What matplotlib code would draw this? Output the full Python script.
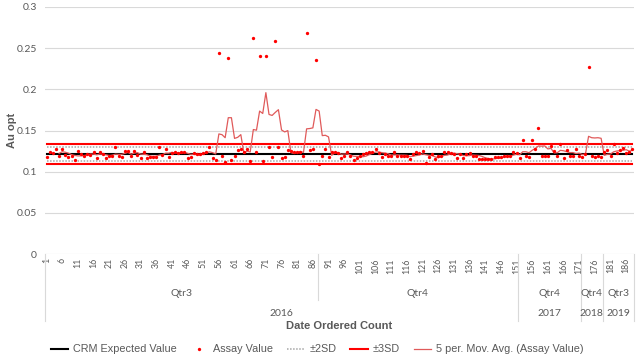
import matplotlib
matplotlib.use('Agg')
import matplotlib.pyplot as plt
from matplotlib.lines import Line2D
import numpy as np

# assay values, in order (count 1..188)
assay = [
    0.118, 0.1235, 0.123, 0.1275, 0.1195, 0.1275, 0.1205, 0.1175, 0.1185, 0.1146,
    0.1245, 0.121, 0.1195, 0.122, 0.1205, 0.1235, 0.117, 0.124, 0.121, 0.117,
    0.119, 0.1195, 0.130, 0.1195, 0.1175, 0.125, 0.125, 0.1195, 0.1255, 0.1205,
    0.1165, 0.1235, 0.117, 0.118, 0.118, 0.118, 0.1295, 0.120, 0.127, 0.118,
    0.123, 0.124, 0.123, 0.1235, 0.124, 0.117, 0.118, 0.123, 0.1215, 0.122,
    0.123, 0.124, 0.130, 0.1165, 0.114, 0.2447, 0.1195, 0.1115, 0.238, 0.114,
    0.119, 0.126, 0.128, 0.124, 0.128, 0.1135, 0.2624, 0.124, 0.240, 0.1135,
    0.240, 0.130, 0.118, 0.2584, 0.130, 0.117, 0.118, 0.126, 0.125, 0.124,
    0.124, 0.124, 0.1195, 0.2685, 0.126, 0.128, 0.236, 0.1095, 0.1195, 0.128,
    0.118, 0.124, 0.124, 0.123, 0.117, 0.1195, 0.1235, 0.119, 0.1146, 0.116,
    0.1195, 0.1215, 0.123, 0.1235, 0.1235, 0.1275, 0.123, 0.118, 0.121, 0.1195,
    0.1195, 0.1235, 0.1185, 0.1195, 0.1195, 0.1185, 0.1155, 0.121, 0.1235, 0.123,
    0.1245, 0.111, 0.1175, 0.122, 0.115, 0.1185, 0.1195, 0.124, 0.124, 0.123,
    0.122, 0.116, 0.121, 0.116, 0.1215, 0.123, 0.1195, 0.1195, 0.115, 0.1155,
    0.115, 0.115, 0.115, 0.118, 0.118, 0.118, 0.1195, 0.1195, 0.1195, 0.124,
    0.123, 0.1165, 0.138, 0.1195, 0.118, 0.138, 0.1275, 0.153, 0.1185, 0.1195,
    0.1195, 0.131, 0.1255, 0.1195, 0.134, 0.117, 0.126, 0.1195, 0.1195, 0.128,
    0.1195, 0.118, 0.1215, 0.2277, 0.1195, 0.118, 0.1195, 0.118, 0.124, 0.126,
    0.1195, 0.133, 0.123, 0.126, 0.1285, 0.123, 0.124, 0.128,
]
crm_value = 0.1215
sd = 0.004

# category groups: (label, first count, last count)
quarters = [('Qtr3', 1, 87), ('Qtr4', 88, 151), ('Qtr4', 152, 171),
            ('Qtr4', 172, 178), ('Qtr3', 179, 188)]
years = [('2016', 1, 151), ('2017', 152, 171), ('2018', 172, 178), ('2019', 179, 188)]

n = len(assay)
x = np.arange(1, n + 1)
vals = np.array(assay)
mov = np.full(n, np.nan)
for i in range(4, n):
    mov[i] = vals[i - 4:i + 1].mean()

W, H = 636, 358
fig = plt.figure(figsize=(W / 100, H / 100), dpi=100)
ax = fig.add_axes([45 / W, 1 - 254 / H, 589 / W, 247 / H])

grey = '#595959'
gridc = '#d9d9d9'
red = '#ff0000'
ma_col = '#e05a5a'

ax.plot(x, np.full(n, crm_value + 3 * sd), color=red, lw=1.5, zorder=2)
ax.plot(x, np.full(n, crm_value - 3 * sd), color=red, lw=1.5, zorder=2)
ax.plot(x, np.full(n, crm_value + 2 * sd), color='#a6a6a6', lw=1.1, ls=(0, (1, 1)), zorder=2)
ax.plot(x, np.full(n, crm_value - 2 * sd), color='#a6a6a6', lw=1.1, ls=(0, (1, 1)), zorder=2)
ax.plot(x, np.full(n, crm_value), color='black', lw=1.5, zorder=3)
ax.plot(x, mov, color=ma_col, lw=0.9, zorder=4)
ax.plot(x, vals, ls='none', marker='o', ms=2.4, color=red, mew=0, zorder=5)

ax.set_xlim(0.5, n + 0.5)
ax.set_ylim(0, 0.3)
yt = [0, 0.05, 0.1, 0.15, 0.2, 0.25, 0.3]
ax.set_yticks(yt)
ax.set_yticklabels(['0', '0.05', '0.1', '0.15', '0.2', '0.25', '0.3'],
                   fontsize=7.5, color=grey, family='Lato')
ax.grid(axis='y', color=gridc, lw=0.8)
ax.set_axisbelow(True)
for s in ax.spines.values():
    s.set_visible(False)
ax.tick_params(axis='y', length=0, pad=6)

xt = list(range(1, n + 1, 5))
ax.set_xticks(xt)
ax.set_xticklabels([str(v) for v in xt], rotation=90, fontsize=6.3,
                   color=grey, family='Lato')
ax.tick_params(axis='x', length=0, pad=3)

tr = ax.get_xaxis_transform()
def ypos(py):
    return (254 - py) / 247

for lab, a, b in quarters:
    ax.text((a + b) / 2, ypos(293), lab, transform=tr, ha='center', va='center',
            fontsize=7.5, color=grey, family='Lato')
for lab, a, b in years:
    ax.text((a + b) / 2, ypos(313), lab, transform=tr, ha='center', va='center',
            fontsize=7.5, color=grey, family='Lato')

# separators under the axis
yb = [a for _, a, _ in years] + [n + 1]
for a in yb:
    ax.add_line(Line2D([a - 0.5, a - 0.5], [0, ypos(321)], transform=tr,
                       color=gridc, lw=0.8, clip_on=False))
for _, a, _ in quarters:
    if a not in yb:
        ax.add_line(Line2D([a - 0.5, a - 0.5], [0, ypos(300)], transform=tr,
                           color=gridc, lw=0.8, clip_on=False))

ax.text(0.5, ypos(326), 'Date Ordered Count', transform=ax.transAxes,
        ha='center', va='center', fontsize=8, fontweight='bold', color=grey,
        family='Liberation Sans')
fig.text(12 / W, 1 - 130 / H, 'Au opt', rotation=90, ha='center', va='center',
         fontsize=8, fontweight='bold', color=grey, family='Liberation Sans')

handles = [
    Line2D([], [], color='black', lw=1.5),
    Line2D([], [], ls='none', marker='o', ms=2.4, color=red, mew=0),
    Line2D([], [], color='#a6a6a6', lw=1.1, ls=(0, (1, 1))),
    Line2D([], [], color=red, lw=1.5),
    Line2D([], [], color=ma_col, lw=0.9),
]
labels = ['CRM Expected Value', 'Assay Value', '\u00b12SD', '\u00b13SD',
          '5 per. Mov. Avg. (Assay Value)']
fig.legend(handles, labels, loc='center', bbox_to_anchor=(317 / W, 1 - 349.5 / H),
           ncol=5, frameon=False, handlelength=1.6, handletextpad=0.45,
           columnspacing=1.3, prop={'family': 'Liberation Sans', 'size': 7.8},
           labelcolor=grey)

fig.savefig('out.png', dpi=100)
